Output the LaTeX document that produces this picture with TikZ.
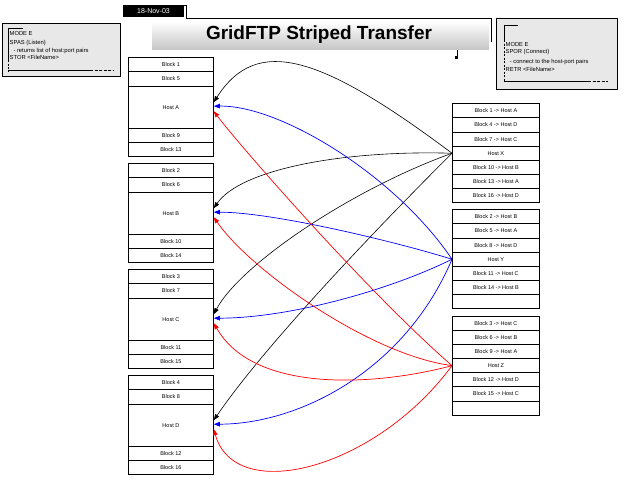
\documentclass[tikz,border=0pt]{standalone}
\usepackage{fontspec}
\setmainfont{Liberation Sans}
\usetikzlibrary{arrows.meta,calc}
\begin{document}
\begin{tikzpicture}[x=1pt,y=-1pt,
  cellL/.style={draw, line width=0.8pt, anchor=north west, minimum width=85pt, inner sep=0pt, font=\fontsize{5.5}{6}\selectfont},
  cellR/.style={draw, line width=0.8pt, anchor=north west, minimum width=87pt, minimum height=14.15pt, inner sep=0pt, font=\fontsize{5.5}{6}\selectfont},
  infotext/.style={anchor=west, inner sep=0pt, font=\fontsize{5.8}{6}\selectfont},
  conn/.style={line width=0.7pt, -{Triangle[length=6pt,width=4.5pt]}},
  cblack/.style={conn, black, line width=0.6pt},
  cblue/.style={conn, blue},
  cred/.style={conn, red}]
\useasboundingbox (0,0) rectangle (624,485);
% title
\fill[black] (123,5) rectangle (184,17);
\node[text=white, font=\fontsize{7}{8}\selectfont, inner sep=0pt] (date) at (153.5,11) {18-Nov-03};
\draw[line width=0.8pt] (184,5) -- (186,5) -- (186,18.3) -- (491.5,18.3) -- (491.5,42);
\shade[top color=white, bottom color=gray!45] (152,21.5) rectangle (489,49.5);
\node[font=\bfseries\fontsize{19}{20}\selectfont, inner sep=0pt] (title) at (319,35) {GridFTP Striped Transfer};
\draw[line width=0.8pt] (457,50) -- (457,58);
\fill (455,56) rectangle (458,59);
% left info box
\draw[line width=0.8pt, fill=gray!18] (2,23) rectangle (120,76);
\draw[line width=0.6pt] (23,28.3) -- (8.3,28.3) -- (8.3,60);
\draw[line width=0.6pt, dashed, dash pattern=on 2pt off 1.5pt] (8.3,60) -- (8.3,71.7);
\draw[line width=0.6pt] (8.3,70.5) -- (90,70.5);
\draw[line width=0.6pt, dash pattern=on 3pt off 1.5pt] (90,70.5) -- (113,70.5);
\node[infotext] (l1) at (9.5,33.5) {MODE E};
\node[infotext] (l2) at (9.5,43.3) {SPAS (Listen)};
\node[infotext] (l3) at (11.7,50.5) {\ - returns list of host:port pairs};
\node[infotext] (l4) at (9.5,57.3) {STOR <FileName>};
% right info box
\draw[line width=0.8pt, fill=gray!18] (496,18.3) rectangle (617,89);
\draw[line width=0.6pt] (518.3,25) -- (504,25) -- (504,40);
\draw[line width=0.6pt, dash pattern=on 2pt off 1.5pt] (504,40) -- (504,81.7);
\draw[line width=0.6pt] (504,81.7) -- (588,81.7);
\draw[line width=0.6pt, dash pattern=on 3pt off 1.5pt] (588,81.7) -- (608,81.7);
\node[infotext] (r1) at (505.5,45) {MODE E};
\node[infotext] (r2) at (505.5,52.3) {SPOR (Connect)};
\node[infotext] (r3) at (508,61.5) {\ - connect to the host-port pairs};
\node[infotext] (r4) at (505.5,69) {RETR <FileName>};
% left groups
\node[cellL, minimum height=14.4pt] (a1) at (128,57) {Block 1};
\node[cellL, minimum height=14.4pt] (a2) at (128,71.4) {Block 5};
\node[cellL, minimum height=42pt] (hA) at (128,85.8) {Host A};
\node[cellL, minimum height=14.2pt] (a3) at (128,127.8) {Block 9};
\node[cellL, minimum height=14.4pt] (a4) at (128,142) {Block 13};
\node[cellL, minimum height=14.4pt] (b1) at (128,163) {Block 2};
\node[cellL, minimum height=14.4pt] (b2) at (128,177.4) {Block 6};
\node[cellL, minimum height=42pt] (hB) at (128,191.8) {Host B};
\node[cellL, minimum height=14.2pt] (b3) at (128,233.8) {Block 10};
\node[cellL, minimum height=14.4pt] (b4) at (128,248) {Block 14};
\node[cellL, minimum height=14.4pt] (c1) at (128,269) {Block 3};
\node[cellL, minimum height=14.4pt] (c2) at (128,283.4) {Block 7};
\node[cellL, minimum height=42pt] (hC) at (128,297.8) {Host C};
\node[cellL, minimum height=14.2pt] (c3) at (128,339.8) {Block 11};
\node[cellL, minimum height=14.4pt] (c4) at (128,354) {Block 15};
\node[cellL, minimum height=14.4pt] (d1) at (128,375) {Block 4};
\node[cellL, minimum height=14.4pt] (d2) at (128,389.4) {Block 8};
\node[cellL, minimum height=42pt] (hD) at (128,403.8) {Host D};
\node[cellL, minimum height=14.2pt] (d3) at (128,445.8) {Block 12};
\node[cellL, minimum height=14.4pt] (d4) at (128,460) {Block 16};
% right groups
\foreach \i/\t in {1/Block 1 -> Host A, 2/Block 4 -> Host D, 3/Block 7 -> Host C, 4/Host X, 5/Block 10 -> Host B, 6/Block 13 -> Host A, 7/Block 16 -> Host D}
  \node[cellR] (X\i) at (452,{103.3+(\i-1)*14.15}) {\t};
\foreach \i/\t in {1/Block 2 -> Host B, 2/Block 5 -> Host A, 3/Block 8 -> Host D, 4/Host Y, 5/Block 11 -> Host C, 6/Block 14 -> Host B, 7/}
  \node[cellR] (Y\i) at (452,{209.3+(\i-1)*14.15}) {\t};
\foreach \i/\t in {1/Block 3 -> Host C, 2/Block 6 -> Host B, 3/Block 9 -> Host A, 4/Host Z, 5/Block 12 -> Host D, 6/Block 15 -> Host C, 7/}
  \node[cellR] (Z\i) at (452,{315.7+(\i-1)*14.15}) {\t};
% connectors from Host X (black)
\draw[cblack] (X4.west) .. controls (322,56) and (257,34) .. ($(hA.east)+(0,-5)$);
\draw[cblack] (X4.west) .. controls (340,150) and (240,170) .. ($(hB.east)+(0,-5)$);
\draw[cblack] (X4.west) .. controls (350,190) and (240,265) .. ($(hC.east)+(0,-5)$);
\draw[cblack] (X4.west) .. controls (380,225) and (265,345) .. ($(hD.east)+(0,-5)$);
% connectors from Host Y (blue)
\draw[cblue] (Y4.west) .. controls (395,175) and (280,105) .. ($(hA.east)+(0,-1)$);
\draw[cblue] (Y4.west) .. controls (390,240) and (270,212) .. ($(hB.east)+(0,-1)$);
\draw[cblue] (Y4.west) .. controls (390,290) and (290,318) .. ($(hC.east)+(0,-1)$);
\draw[cblue] (Y4.west) .. controls (405,370) and (300,424) .. ($(hD.east)+(0,-1)$);
% connectors from Host Z (red)
\draw[cred] (Z4.west) .. controls (365,290) and (235,140) .. ($(hA.east)+(0,4)$);
\draw[cred] (Z4.west) .. controls (370,355) and (250,270) .. ($(hB.east)+(0,4)$);
\draw[cred] (Z4.west) .. controls (380,385) and (255,395) .. ($(hC.east)+(0,4)$);
\draw[cred] (Z4.west) .. controls (375,470) and (235,505) .. ($(hD.east)+(0,4)$);
\end{tikzpicture}
\end{document}
